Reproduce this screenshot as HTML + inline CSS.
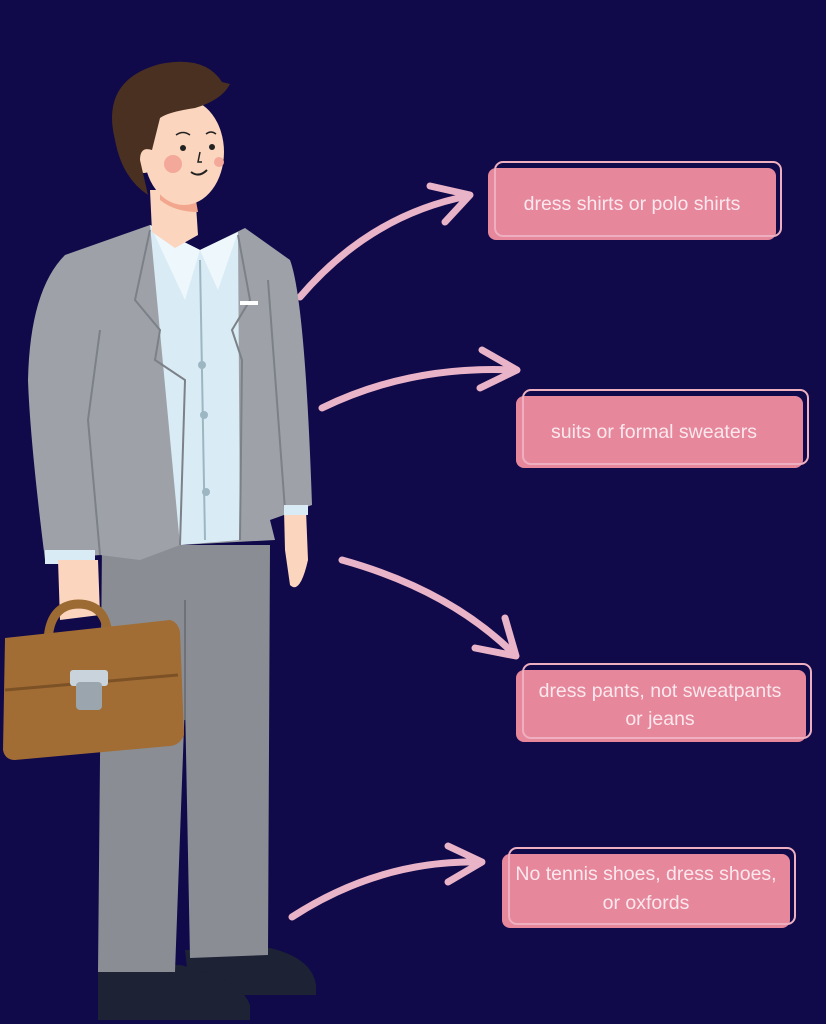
<!DOCTYPE html>
<html><head><style>
html,body{margin:0;padding:0;background:#10094a;}
svg{display:block}
text{font-family:"Liberation Sans",sans-serif;fill:#fbe8ee;font-size:19.5px;text-anchor:middle}
</style></head><body>
<svg width="826" height="1024" viewBox="0 0 826 1024" xmlns="http://www.w3.org/2000/svg">
<rect width="826" height="1024" fill="#10094a"/>
<g fill="none" stroke="#e9b3c8" stroke-width="7" stroke-linecap="round" stroke-linejoin="round">
<path d="M300 297 Q370 215 468 196"/><path d="M430 186 L470 195 L445 222"/>
<path d="M322 408 Q410 365 515 370"/><path d="M482 350 L517 370 L480 388"/>
<path d="M342 560 Q450 590 515 655"/><path d="M475 648 L516 656 L505 618"/>
<path d="M292 917 Q380 860 480 862"/><path d="M448 846 L482 862 L448 882"/>
</g>
<g>
<rect x="488" y="168" width="288" height="72" rx="8" fill="#e6879b"/>
<rect x="495" y="162" width="286" height="74" rx="8" fill="none" stroke="#eeb0c0" stroke-width="2"/>
<text x="632" y="210">dress shirts or polo shirts</text>
<rect x="516" y="396" width="287" height="72" rx="8" fill="#e6879b"/>
<rect x="523" y="390" width="285" height="74" rx="8" fill="none" stroke="#eeb0c0" stroke-width="2"/>
<text x="654" y="438">suits or formal sweaters</text>
<rect x="516" y="670" width="290" height="72" rx="8" fill="#e6879b"/>
<rect x="523" y="664" width="288" height="74" rx="8" fill="none" stroke="#eeb0c0" stroke-width="2"/>
<text x="660" y="697">dress pants, not sweatpants</text>
<text x="660" y="725">or jeans</text>
<rect x="502" y="854" width="288" height="74" rx="8" fill="#e6879b"/>
<rect x="509" y="848" width="286" height="76" rx="8" fill="none" stroke="#eeb0c0" stroke-width="2"/>
<text x="646" y="880">No tennis shoes, dress shoes,</text>
<text x="646" y="909">or oxfords</text>
</g>
<path d="M185 950 L270 948 Q312 958 316 985 L316 995 L190 995 Z" fill="#1d2235"/>
<path d="M98 968 L180 965 Q240 978 250 1005 L250 1020 L98 1020 Z" fill="#1d2235"/>
<path d="M102 545 L270 545 L268 955 L190 958 L185 700 L175 972 L98 972 Z" fill="#8a8d93"/>
<path d="M185 600 L185 720" stroke="#6f7278" stroke-width="2"/>
<path d="M284 510 L306 510 L308 560 Q300 595 290 585 L285 550 Z" fill="#fbd5bd"/>
<path d="M65 255 L150 225 L200 250 L245 228 L290 260 Q305 300 312 505 L270 520 L275 540 L180 545 L140 560 L100 555 L45 560 Q30 440 28 380 Q30 290 65 255 Z" fill="#9ea2a8"/>
<path d="M150 225 L200 250 L238 232 L240 540 L180 545 Z" fill="#d9ecf5"/>
<path d="M150 225 L185 300 L200 250 Z" fill="#eef7fb"/>
<path d="M200 250 L218 290 L238 232 Z" fill="#eef7fb"/>
<path d="M200 260 L205 540" stroke="#9cb6c2" stroke-width="2"/>
<circle cx="202" cy="365" r="4" fill="#9cb6c2"/><circle cx="204" cy="415" r="4" fill="#9cb6c2"/><circle cx="206" cy="492" r="4" fill="#9cb6c2"/>
<path d="M150 230 L135 300 L160 330 L155 360 L185 380 L180 545" fill="none" stroke="#7c8087" stroke-width="2"/>
<path d="M238 235 L250 300 L232 330 L242 360 L240 540" fill="none" stroke="#7c8087" stroke-width="2"/>
<rect x="240" y="301" width="18" height="4" fill="#fff"/>
<path d="M100 330 L88 420 L100 555" fill="none" stroke="#7c8087" stroke-width="2"/>
<path d="M268 280 L285 510" fill="none" stroke="#7c8087" stroke-width="2"/>
<rect x="45" y="550" width="50" height="14" fill="#d9ecf5"/>
<rect x="284" y="505" width="24" height="10" fill="#d9ecf5"/>
<path d="M150 190 L195 190 L198 235 L175 248 L152 232 Z" fill="#fbd5bd"/>
<path d="M160 190 L195 195 L198 212 Q175 212 160 200 Z" fill="#f2a68e"/>
<ellipse cx="184" cy="152" rx="40" ry="53" fill="#fbd5bd"/>
<ellipse cx="144" cy="160" rx="11" ry="13" fill="#fbd5bd"/>
<path d="M115 140 Q100 80 160 64 Q205 55 222 82 L230 84 Q222 100 195 108 Q168 112 160 118 L152 150 Q140 146 140 160 L148 195 Q122 178 115 140 Z" fill="#4a3020"/>
<circle cx="173" cy="164" r="9" fill="#f4a89a"/><circle cx="219" cy="162" r="5" fill="#f4a89a"/>
<path d="M176 135 Q183 130 190 135 M206 134 Q211 130 216 134" fill="none" stroke="#222" stroke-width="1.5"/>
<circle cx="183" cy="148" r="3" fill="#222"/><circle cx="212" cy="147" r="3" fill="#222"/>
<path d="M200 152 L198 162 L202 162" fill="none" stroke="#222" stroke-width="1.5"/>
<path d="M191 172 Q199 178 207 170" fill="none" stroke="#222" stroke-width="2"/>
<path d="M58 560 L98 560 L100 615 L60 620 Z" fill="#fbd5bd"/>
<path d="M48 640 Q50 605 78 604 Q108 604 108 640" fill="none" stroke="#9c6a33" stroke-width="9"/>
<path d="M5 638 L170 620 Q178 622 180 632 L184 735 Q180 745 170 746 L15 760 Q5 760 3 750 Z" fill="#a16d34"/>
<path d="M5 690 L178 675" stroke="#7d5126" stroke-width="3"/>
<rect x="70" y="670" width="38" height="16" rx="3" fill="#c8d3db"/>
<rect x="76" y="682" width="26" height="28" rx="4" fill="#9aa5ad"/>
</svg>
</body></html>
